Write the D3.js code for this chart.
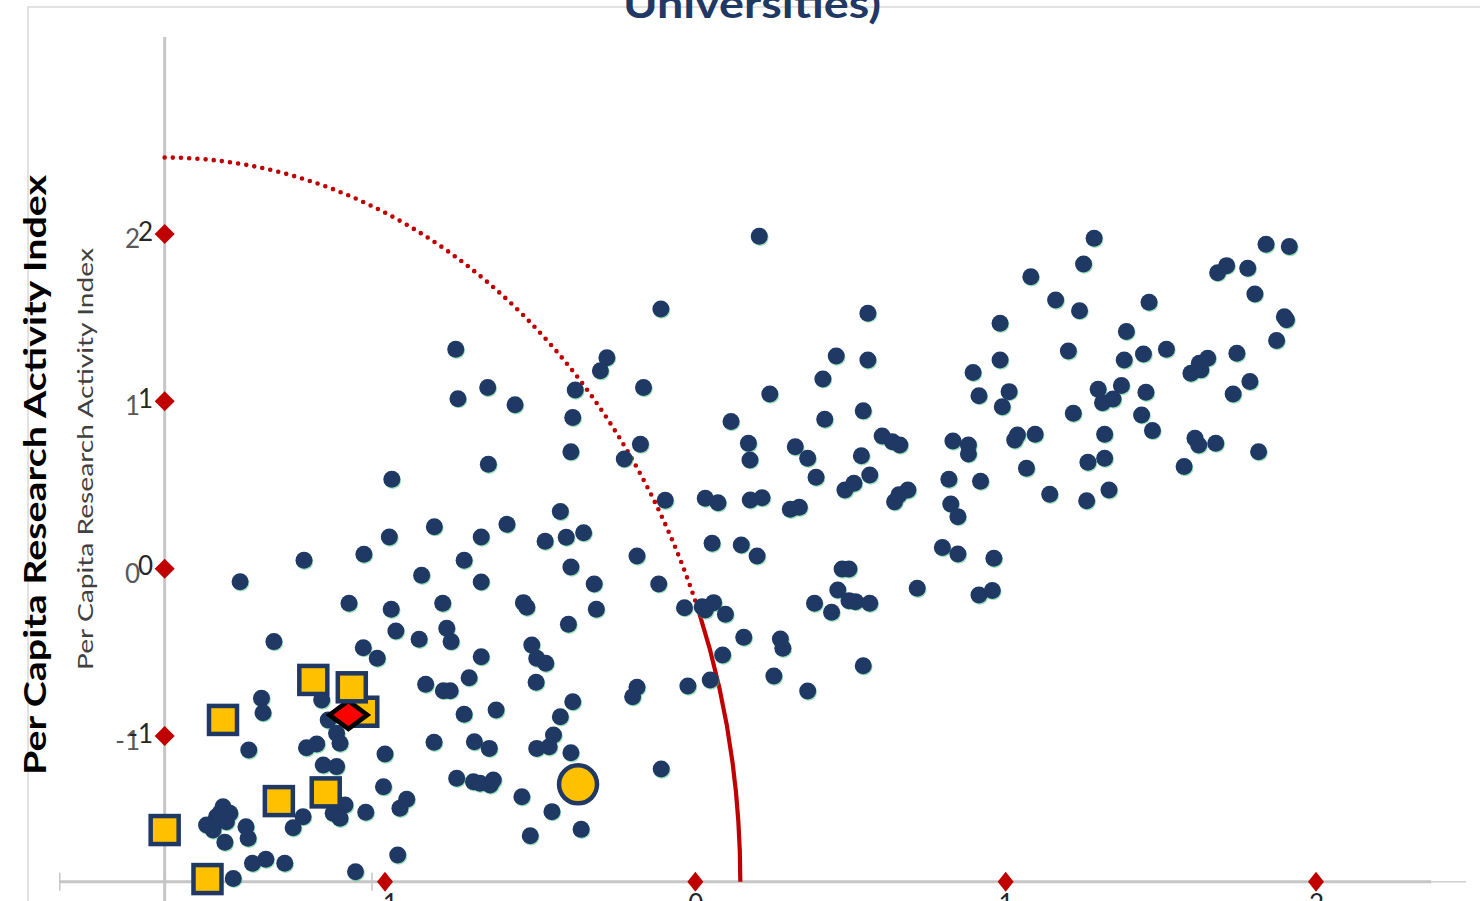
<!DOCTYPE html>
<html><head><meta charset="utf-8">
<script src="https://cdn.jsdelivr.net/npm/d3@7"></script>
<style>html,body{margin:0;padding:0;background:#fff;overflow:hidden}svg{display:block}</style>
</head><body>
<svg id="chart" width="1480" height="901"></svg>
<script>
// ---------- data (values in chart units) ----------
const titleText = "Universities)";
const yTitleBig = "Per Capita Research Activity Index";
const yTitleSmall = "Per Capita Research Activity Index";

const dotX = [-0.772,-0.285,-0.306,-0.669,-0.765,-0.581,-0.387,-0.395,-0.401,-0.229,-0.667,-0.978,-0.435,-0.841,-0.607,-0.986,-0.690,-0.484,-0.416,-0.360,-1.068,-1.261,-0.745,-0.401,-1.467,-0.882,-0.690,-0.326,-1.116,-0.980,-0.814,-0.554,-0.543,-0.319,
-0.409,-0.965,-0.890,-0.801,-0.787,-1.358,-1.070,-1.025,-0.690,-0.527,-0.511,-0.482,-0.729,-0.513,-0.869,-0.812,-0.790,-0.395,-1.398,-1.393,-1.204,-0.745,-0.642,-0.435,-0.457,-0.471,-0.511,-0.401,-1.183,-1.156,-1.145,-1.253,-1.220,-1.439,-0.842,-0.712,-0.664,-1.000,-1.199,-1.156,-0.769,-0.715,-0.694,-0.661,-0.651,-1.005,-0.559,-0.930,-0.952,-0.462,-1.129,-1.167,-1.145,-1.062,-0.532,-0.368,-1.264,-1.296,-1.522,-1.543,-1.575,-1.554,-1.511,-1.500,-1.532,-1.448,-1.441,-1.516,-0.959,-1.427,-1.384,-1.323,-1.095,-1.489,
-0.111,0.556,0.982,-0.167,0.454,0.556,0.982,0.411,0.240,0.895,0.914,0.989,1.011,0.541,0.115,0.417,-0.177,0.171,0.176,0.322,0.362,0.389,0.602,0.635,0.659,0.535,0.562,0.830,0.880,0.880,0.817,0.919,-0.097,0.032,0.073,0.177,0.215,0.306,0.335,0.482,0.511,0.642,0.656,0.685,0.823,0.846,-0.188,0.054,0.148,0.199,-0.118,0.796,0.846,0.962,0.473,0.495,0.715,0.459,0.495,0.516,0.562,0.384,0.439,0.914,0.957,-0.035,0.022,0.059,0.032,0.097,0.156,0.274,0.282,0.088,0.541,0.253,0.362,-0.024,0.048,-0.188,-0.202,-0.110,
1.285,1.839,1.914,1.251,1.081,1.712,1.683,1.780,1.161,1.238,1.462,1.803,1.898,1.905,1.389,1.873,1.202,1.444,1.518,1.382,1.745,1.597,1.624,1.651,1.629,1.298,1.312,1.346,1.373,1.452,1.438,1.787,1.733,1.218,1.473,1.319,1.029,1.038,1.095,1.610,1.622,1.677,1.815,1.319,1.265,1.067,1.575,1.142,1.261,1.333,0.206];

const dotY = [1.311,1.261,1.183,1.082,1.016,0.980,1.068,0.903,0.698,0.656,0.624,0.534,0.341,0.251,0.265,0.189,0.189,0.164,0.188,0.215,0.086,0.050,0.050,0.010,-0.078,-0.039,-0.079,-0.091,-0.207,-0.243,-0.207,-0.203,-0.231,-0.243,
-0.332,-0.372,-0.422,-0.356,-0.436,-0.436,-0.472,-0.536,-0.526,-0.456,-0.536,-0.565,-0.652,-0.679,-0.691,-0.729,-0.729,-0.795,-0.775,-0.861,-0.785,-0.870,-0.845,-0.885,-0.994,-1.064,-1.074,-1.100,-0.904,-0.984,-1.044,-1.070,-1.048,-1.084,-1.038,-1.034,-1.074,-1.108,-1.173,-1.183,-1.253,-1.273,-1.283,-1.293,-1.263,-1.303,-1.363,-1.378,-1.432,-1.452,-1.412,-1.462,-1.492,-1.456,-1.596,-1.558,-1.482,-1.548,-1.423,-1.482,-1.532,-1.562,-1.512,-1.462,-1.462,-1.542,-1.611,-1.635,-1.711,-1.761,-1.737,-1.761,-1.811,-1.851,
1.552,1.527,1.467,1.082,1.271,1.247,1.247,1.134,1.044,1.172,1.034,0.968,1.058,0.943,0.879,0.893,0.744,0.750,0.650,0.729,0.660,0.546,0.793,0.759,0.739,0.675,0.560,0.763,0.739,0.686,0.534,0.522,0.409,0.421,0.394,0.411,0.424,0.355,0.367,0.470,0.510,0.400,0.441,0.470,0.387,0.311,0.076,0.152,0.142,0.076,-0.091,0.126,0.088,0.062,-0.002,-0.002,-0.117,-0.127,-0.191,-0.197,-0.207,-0.207,-0.261,-0.157,-0.131,-0.233,-0.227,-0.203,-0.247,-0.273,-0.410,-0.420,-0.476,-0.516,-0.580,-0.641,-0.731,-0.701,-0.665,-0.709,-0.765,-1.197,
1.975,1.939,1.925,1.821,1.745,1.811,1.769,1.796,1.606,1.542,1.592,1.642,1.506,1.487,1.417,1.363,1.301,1.283,1.311,1.247,1.287,1.168,1.228,1.258,1.188,1.072,0.992,1.014,1.094,1.054,0.919,1.118,1.044,0.929,0.825,0.803,0.769,0.799,0.803,0.779,0.739,0.750,0.699,0.660,0.636,0.600,0.610,0.445,0.406,0.470,1.987];

// highlighted institutions (squares) – first one is partly hidden under the diamond
const squareX = [-1.070,-1.231,-1.107,-1.522,-1.342,-1.191,-1.710,-1.572];
const squareY = [-0.855,-0.665,-0.709,-0.904,-1.389,-1.337,-1.562,-1.855];
const diamondX = [-1.118];
const diamondY = [-0.874];
const circleX = [-0.378];
const circleY = [-1.289];

// tick values / labels
const yTickValues = [2, 1, 0, -1];
const yTickLabels = ["2", "1", "0", "-1"];
const xTickValues = [-1, 0, 1, 2];
const xTickLabels = ["-1", "0", "1", "2"];
const xGrayTicks = [-2.048, -1.71, -1.042, 0, 1, 2];

// axis crossing & reference quarter-ellipse (chart units)
const axisCrossX = -1.71;
const axisCrossY = -1.871;
const arcCenter = [-1.71, -1.871];
const arcRadius = [1.855, 4.328];
const arcSolidFromY = -0.263;

// ---------- drawing ----------
const svg = d3.select("#chart");
const x = d3.scaleLinear().domain([-1, 2]).range([385, 1316]);
const y = d3.scaleLinear().domain([-1, 2]).range([736, 234]);

const navy = "#1F3864", gold = "#FFC000", dred = "#C00000", axisGray = "#C6C6C6";

// outer chart frame
svg.append("path").attr("d", "M28,901 L28,7 L1480,7")
  .attr("fill", "none").attr("stroke", "#D9D9D9").attr("stroke-width", 1.5);

// title (cut off at top)
svg.append("text").attr("x", 752).attr("y", 18).attr("text-anchor", "middle")
  .attr("font-family", "Lato, 'Open Sans', sans-serif").attr("font-weight", 700)
  .attr("font-size", 40).attr("fill", navy)
  .attr("textLength", 258).attr("lengthAdjust", "spacingAndGlyphs").text(titleText);

// y titles
svg.append("text").attr("transform", "translate(46,475) rotate(-90)")
  .attr("text-anchor", "middle").attr("font-family", "Lato, 'Open Sans', sans-serif")
  .attr("font-weight", 700).attr("font-size", 31).attr("fill", "#000")
  .attr("textLength", 600).attr("lengthAdjust", "spacingAndGlyphs").text(yTitleBig);
svg.append("text").attr("transform", "translate(93,459) rotate(-90)")
  .attr("text-anchor", "middle").attr("font-family", "Lato, 'Open Sans', sans-serif")
  .attr("font-size", 22).attr("fill", "#404040")
  .attr("textLength", 422).attr("lengthAdjust", "spacingAndGlyphs").text(yTitleSmall);

// axes lines
const xAxisPix = y(axisCrossY), yAxisPix = x(axisCrossX);
svg.append("line").attr("x1", yAxisPix).attr("x2", yAxisPix).attr("y1", 37).attr("y2", 901)
  .attr("stroke", axisGray).attr("stroke-width", 3);
svg.append("line").attr("x1", x(-2.048)).attr("x2", x(2.371)).attr("y1", xAxisPix).attr("y2", xAxisPix)
  .attr("stroke", axisGray).attr("stroke-width", 3);
svg.append("line").attr("x1", x(2.371)).attr("x2", x(2.484)).attr("y1", xAxisPix).attr("y2", xAxisPix)
  .attr("stroke", "#CFCFCF").attr("stroke-width", 1.5);
svg.selectAll(".xgt").data(xGrayTicks).join("line")
  .attr("x1", d => x(d)).attr("x2", d => x(d)).attr("y1", xAxisPix - 9).attr("y2", xAxisPix + 9)
  .attr("stroke", axisGray).attr("stroke-width", 1.5);
svg.selectAll(".ygt").data(yTickValues).join("line")
  .attr("x1", yAxisPix - 9).attr("x2", yAxisPix + 9).attr("y1", d => y(d)).attr("y2", d => y(d))
  .attr("stroke", axisGray).attr("stroke-width", 1.5);

// y tick labels: two overlapping sets
svg.selectAll(".ylg").data(yTickValues).join("text")
  .attr("x", 140).attr("y", (d) => y(d) + 14).attr("text-anchor", "end")
  .attr("font-family", "Lato, 'Open Sans', sans-serif").attr("font-size", 26).attr("fill", "#595959")
  .text((d, i) => yTickLabels[i]);
const yAx = d3.axisLeft(y).tickValues(yTickValues).tickSize(0).tickPadding(0)
  .tickFormat((d) => yTickLabels[yTickValues.indexOf(d)]);
const gy = svg.append("g").attr("transform", "translate(153,-2)").call(yAx);
gy.select(".domain").remove();
gy.selectAll("text").attr("font-family", "Lato, 'Open Sans', sans-serif").attr("font-size", 26).attr("fill", "#262626");

// x tick labels (cut at bottom)
const xAx = d3.axisBottom(x).tickValues(xTickValues).tickSize(0).tickPadding(0)
  .tickFormat((d) => xTickLabels[xTickValues.indexOf(d)]);
const gx = svg.append("g").attr("transform", `translate(0,${xAxisPix + 13})`).call(xAx);
gx.select(".domain").remove();
gx.selectAll("text").attr("font-family", "Lato, 'Open Sans', sans-serif").attr("font-size", 26).attr("fill", "#262626");

// reference quarter ellipse
const cx = x(arcCenter[0]), cy = y(arcCenter[1]);
const rx = x(arcCenter[0] + arcRadius[0]) - cx, ry = cy - y(arcCenter[1] + arcRadius[1]);
const fy = (arcSolidFromY - arcCenter[1]) / arcRadius[1];
const sx = cx + rx * Math.sqrt(1 - fy * fy), sy = y(arcSolidFromY);
svg.append("path").attr("d", `M${cx},${cy - ry} A${rx},${ry} 0 0 1 ${sx},${sy}`)
  .attr("fill", "none").attr("stroke", dred).attr("stroke-width", 4.6)
  .attr("stroke-linecap", "round").attr("stroke-dasharray", "0 8.2");
svg.append("path").attr("d", `M${sx},${sy} A${rx},${ry} 0 0 1 ${cx + rx},${cy}`)
  .attr("fill", "none").attr("stroke", dred).attr("stroke-width", 4.2);

// axis red diamonds
const diamondPath = (w, h) => `M0,${-h} L${w},0 L0,${h} L${-w},0 Z`;
svg.selectAll(".ydm").data(yTickValues).join("path")
  .attr("transform", d => `translate(${yAxisPix},${y(d)})`).attr("d", diamondPath(10, 10)).attr("fill", dred);
svg.selectAll(".xdm").data(xTickValues).join("path")
  .attr("transform", d => `translate(${x(d)},${xAxisPix})`).attr("d", diamondPath(8, 10)).attr("fill", dred);

// dots
const dots = dotX.map((d, i) => ({x: d, y: dotY[i]}));
svg.append("g").selectAll("circle").data(dots).join("circle")
  .attr("cx", d => x(d.x) + 0.8).attr("cy", d => y(d.y) + 1.2).attr("r", 8.5)
  .attr("fill", "#3FCB7A").attr("opacity", 0.55);
svg.append("g").selectAll("circle").data(dots).join("circle")
  .attr("cx", d => x(d.x)).attr("cy", d => y(d.y)).attr("r", 8.5).attr("fill", navy);

// squares and highlight markers
const sq = squareX.map((d, i) => ({x: d, y: squareY[i]}));
const drawSquares = (arr) => svg.append("g").selectAll("rect").data(arr).join("rect")
  .attr("x", d => x(d.x) - 14).attr("y", d => y(d.y) - 14).attr("width", 28).attr("height", 28)
  .attr("fill", gold).attr("stroke", navy).attr("stroke-width", 4.5);
drawSquares(sq.slice(0, 1));
svg.append("g").selectAll("path").data(diamondX.map((d, i) => ({x: d, y: diamondY[i]}))).join("path")
  .attr("transform", d => `translate(${x(d.x)},${y(d.y)})`).attr("d", diamondPath(19, 14))
  .attr("fill", "#FF0000").attr("stroke", "#000").attr("stroke-width", 4.5).attr("stroke-linejoin", "miter");
drawSquares(sq.slice(1));
svg.append("g").selectAll("circle").data(circleX.map((d, i) => ({x: d, y: circleY[i]}))).join("circle")
  .attr("cx", d => x(d.x)).attr("cy", d => y(d.y)).attr("r", 19)
  .attr("fill", gold).attr("stroke", navy).attr("stroke-width", 4.5);
</script>
</body></html>
